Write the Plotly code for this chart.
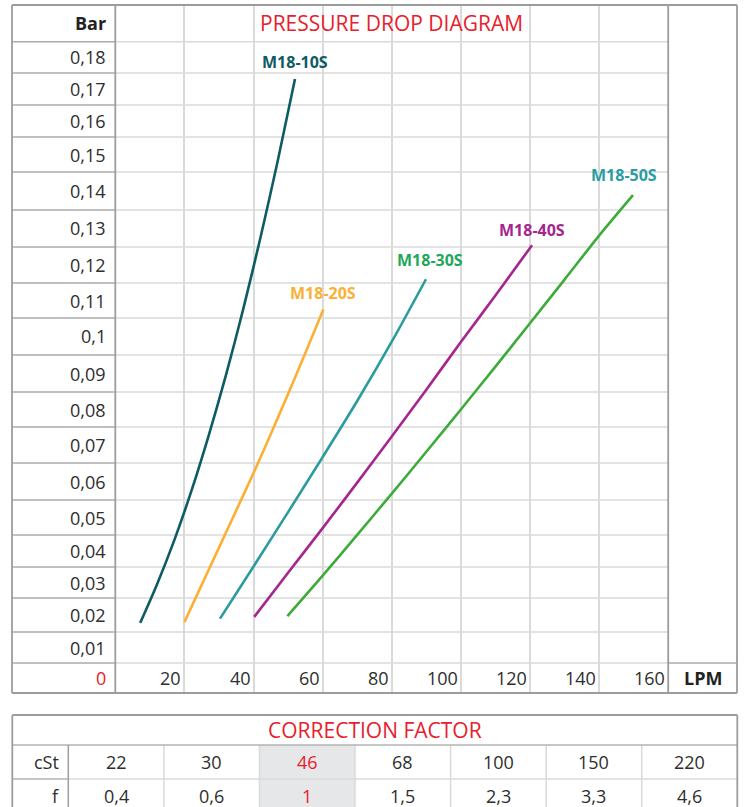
import plotly.graph_objects as go

W, H = 746, 807

# ---------------- data ----------------
series_names = ["M18-10S", "M18-20S", "M18-30S", "M18-40S", "M18-50S"]

m10_lpm = [7.2, 12, 17, 22, 27, 32, 37, 42, 47, 52]
m10_bar = [0.0193, 0.0300, 0.0424, 0.0564, 0.0720, 0.0890, 0.1076, 0.1278, 0.1494, 0.1725]

m20_lpm = [20, 25, 30, 35, 40, 45, 50, 55, 60.2]
m20_bar = [0.0195, 0.0300, 0.0405, 0.0510, 0.0615, 0.0725, 0.0838, 0.0953, 0.1076]

m30_lpm = [30.3, 40, 50, 60, 70, 80, 89.9]
m30_bar = [0.0205, 0.0352, 0.0505, 0.0660, 0.0818, 0.0985, 0.1161]

m40_lpm = [40.2, 50, 60, 70, 80, 90, 100, 110, 120.6]
m40_bar = [0.0210, 0.0334, 0.0460, 0.0588, 0.0718, 0.0850, 0.0984, 0.1115, 0.1257]

m50_lpm = [49.8, 60, 70, 80, 90, 100, 110, 120, 130, 140, 149.8]
m50_bar = [0.0212, 0.0326, 0.0441, 0.0557, 0.0675, 0.0794, 0.0915, 0.1037, 0.1160, 0.1284, 0.1398]

line_colors = ["#0e5b63", "#fbb034", "#2a9c9e", "#a5268f", "#3dab3a"]
label_colors = ["#0e5b63", "#fbb034", "#1fa85a", "#a5268f", "#2a9ca3"]
label_lpm = [52.0, 60.2, 91.1, 120.6, 147.3]
label_bar = [0.1773, 0.1122, 0.1215, 0.1300, 0.1455]

y_tick_vals = [0, 0.01, 0.02, 0.03, 0.04, 0.05, 0.06, 0.07, 0.08, 0.09,
               0.10, 0.11, 0.12, 0.13, 0.14, 0.15, 0.16, 0.17, 0.18]
y_tick_text = ["0", "0,01", "0,02", "0,03", "0,04", "0,05", "0,06", "0,07", "0,08", "0,09",
               "0,1", "0,11", "0,12", "0,13", "0,14", "0,15", "0,16", "0,17", "0,18"]
x_tick_vals = [20, 40, 60, 80, 100, 120, 140, 160]
x_tick_text = ["20", "40", "60", "80", "100", "120", "140", "160"]

cst_values = ["22", "30", "46", "68", "100", "150", "220"]
f_values = ["0,4", "0,6", "1", "1,5", "2,3", "3,3", "4,6"]
highlight_index = 2

# ---------------- layout geometry (pixels) ----------------
def fx(p):
    return p / W

def fy(p):
    return 1 - p / H

FONT = "Open Sans"
TXT = "#2e2e2e"
RED = "#e8202c"
DARK = "#9c9c9c"
LIGHT = "#dadada"

X_LEFT, X_RIGHT = 115.3, 668.2
Y_TOP, Y_BOT = 5.0, 693.0
# row edges of the diagram grid, bottom row ("0") first
ROW_EDGES = [693, 663, 632, 598, 567, 535, 500, 463, 427, 392, 355,
             318, 283, 247, 210, 172, 137, 105, 73, 41.7]
ROW_CENTERS = [(ROW_EDGES[i] + ROW_EDGES[i + 1]) / 2 for i in range(len(ROW_EDGES) - 1)]
# linear value scale of the diagram: pixel of value 0 and pixels per 0.01 bar
PX_ZERO, PX_PER_CENTI = 691.4, 35.5
y_lo = (PX_ZERO - Y_BOT) / PX_PER_CENTI * 0.01
y_hi = (PX_ZERO - Y_TOP) / PX_PER_CENTI * 0.01

fig = go.Figure()

all_lpm = [m10_lpm, m20_lpm, m30_lpm, m40_lpm, m50_lpm]
all_bar = [m10_bar, m20_bar, m30_bar, m40_bar, m50_bar]
for name, xs, ys, c in zip(series_names, all_lpm, all_bar, line_colors):
    fig.add_trace(go.Scatter(x=xs, y=ys, mode="lines", name=name,
                             line=dict(color=c, width=2.6, shape="spline", smoothing=0.8),
                             hoverinfo="skip"))

annotations = []
for name, lx, ly, c in zip(series_names, label_lpm, label_bar, label_colors):
    annotations.append(dict(x=lx, y=ly, xref="x", yref="y", text="<b>%s</b>" % name,
                            showarrow=False, font=dict(family=FONT, size=16, color=c),
                            xanchor="center", yanchor="middle"))

# y labels (left column), one per table row
for v, t, rc in zip(y_tick_vals, y_tick_text, ROW_CENTERS):
    annotations.append(dict(x=fx(108), y=fy(rc), xref="paper", yref="paper", text=t,
                            showarrow=False,
                            font=dict(family=FONT, size=18, color=RED if v == 0 else TXT),
                            xanchor="right", yanchor="middle"))
# x labels (bottom row)
for v, t in zip(x_tick_vals, x_tick_text):
    annotations.append(dict(x=v, y=fy(ROW_CENTERS[0]), xref="x", yref="paper", text=t,
                            showarrow=False, font=dict(family=FONT, size=18, color=TXT),
                            xanchor="right", yanchor="middle", xshift=-1))

annotations.append(dict(x=fx(108), y=fy(23), xref="paper", yref="paper", text="<b>Bar</b>",
                        showarrow=False, font=dict(family=FONT, size=18, color="#222"),
                        xanchor="right", yanchor="middle"))
annotations.append(dict(x=fx((X_LEFT + X_RIGHT) / 2), y=fy(23), xref="paper", yref="paper",
                        text="PRESSURE DROP DIAGRAM", showarrow=False,
                        font=dict(family=FONT, size=21, color=RED),
                        xanchor="center", yanchor="middle"))
annotations.append(dict(x=fx(702.5), y=fy(ROW_CENTERS[0]), xref="paper", yref="paper",
                        text="<b>LPM</b>", showarrow=False,
                        font=dict(family=FONT, size=18, color="#222"),
                        xanchor="center", yanchor="middle"))

shapes = []

def pline(x0, y0, x1, y1, color, width=1.5, layer="above"):
    return dict(type="line", xref="paper", yref="paper", x0=fx(x0), y0=fy(y0),
                x1=fx(x1), y1=fy(y1), line=dict(color=color, width=width), layer=layer)

# horizontal row lines
for e in ROW_EDGES[1:]:
    shapes.append(pline(X_LEFT, e, X_RIGHT, e, LIGHT, 1.5, "below"))
    shapes.append(pline(12, e, X_LEFT, e, "#ababab", 1.5))
shapes.append(pline(X_RIGHT, ROW_EDGES[1], 737, ROW_EDGES[1], "#ababab", 1.5))
# frame
shapes.append(pline(12, Y_TOP, 737, Y_TOP, DARK, 1.8))
shapes.append(pline(12, Y_BOT, 737, Y_BOT, DARK, 1.8))
shapes.append(pline(12, Y_TOP, 12, Y_BOT, DARK, 1.8))
shapes.append(pline(737, Y_TOP, 737, Y_BOT, DARK, 1.8))
shapes.append(pline(X_LEFT, Y_TOP, X_LEFT, Y_BOT, DARK, 1.8))
shapes.append(pline(X_RIGHT, Y_TOP, X_RIGHT, Y_BOT, DARK, 1.8))

# ---------------- correction factor table ----------------
T_TOP, T_HEAD, T_ROW1, T_BOT = 715.0, 745.0, 779.0, 813.0
T_LEFT, T_RIGHT, T_LABEL = 12.3, 737.3, 68.3
ncol = len(cst_values)
col_w = (T_RIGHT - T_LABEL) / ncol
col_edges = [T_LABEL + i * col_w for i in range(ncol + 1)]

hx0 = col_edges[highlight_index]
hx1 = col_edges[highlight_index + 1]
shapes.append(dict(type="rect", xref="paper", yref="paper", x0=fx(hx0), x1=fx(hx1),
                   y0=fy(T_BOT), y1=fy(T_HEAD), fillcolor="#e6e7e8", line=dict(width=0),
                   layer="below"))
for e in col_edges[1:-1]:
    shapes.append(pline(e, T_HEAD, e, T_BOT, LIGHT, 1.5))
shapes.append(pline(T_LEFT, T_ROW1, T_RIGHT, T_ROW1, LIGHT, 1.5))
shapes.append(pline(T_LEFT, T_ROW1, T_LABEL, T_ROW1, "#bdbdbd", 1.5))
shapes.append(pline(T_LEFT, T_HEAD, T_RIGHT, T_HEAD, "#b3b3b3", 1.5))
shapes.append(pline(T_LABEL, T_HEAD, T_LABEL, T_BOT, DARK, 1.5))
shapes.append(pline(T_LEFT, T_TOP, T_RIGHT, T_TOP, DARK, 1.8))
shapes.append(pline(T_LEFT, T_TOP, T_LEFT, T_BOT, DARK, 1.8))
shapes.append(pline(T_RIGHT, T_TOP, T_RIGHT, T_BOT, DARK, 1.8))

annotations.append(dict(x=fx((T_LEFT + T_RIGHT) / 2), y=fy((T_TOP + T_HEAD) / 2), xref="paper",
                        yref="paper", text="CORRECTION FACTOR", showarrow=False,
                        font=dict(family=FONT, size=21, color=RED),
                        xanchor="center", yanchor="middle"))
annotations.append(dict(x=fx(61), y=fy((T_HEAD + T_ROW1) / 2), xref="paper", yref="paper",
                        text="cSt", showarrow=False, font=dict(family=FONT, size=18, color=TXT),
                        xanchor="right", yanchor="middle"))
annotations.append(dict(x=fx(61), y=fy((T_ROW1 + T_BOT) / 2), xref="paper", yref="paper",
                        text="f", showarrow=False, font=dict(family=FONT, size=18, color=TXT),
                        xanchor="right", yanchor="middle"))
for i, (c, f) in enumerate(zip(cst_values, f_values)):
    cx = (col_edges[i] + col_edges[i + 1]) / 2
    col = RED if i == highlight_index else TXT
    annotations.append(dict(x=fx(cx), y=fy((T_HEAD + T_ROW1) / 2), xref="paper", yref="paper",
                            text=c, showarrow=False, font=dict(family=FONT, size=18, color=col),
                            xanchor="center", yanchor="middle"))
    annotations.append(dict(x=fx(cx), y=fy((T_ROW1 + T_BOT) / 2), xref="paper", yref="paper",
                            text=f, showarrow=False, font=dict(family=FONT, size=18, color=col),
                            xanchor="center", yanchor="middle"))

fig.update_layout(
    width=W, height=H,
    margin=dict(l=0, r=0, t=0, b=0),
    paper_bgcolor="white", plot_bgcolor="white",
    showlegend=False,
    xaxis=dict(domain=[fx(X_LEFT), fx(X_RIGHT)], range=[0, 160], tickvals=x_tick_vals,
               showticklabels=False, showgrid=True, gridcolor=LIGHT, gridwidth=1.5,
               zeroline=False, showline=False, ticks="", fixedrange=True),
    yaxis=dict(domain=[fy(Y_BOT), fy(Y_TOP)], range=[y_lo, y_hi],
               showticklabels=False, showgrid=False, zeroline=False,
               showline=False, ticks="", fixedrange=True),
    shapes=shapes,
    annotations=annotations,
)

fig.write_html("out.html", config={"displayModeBar": False},
               post_script="document.body.style.margin='0px';document.body.style.overflow='hidden';")
